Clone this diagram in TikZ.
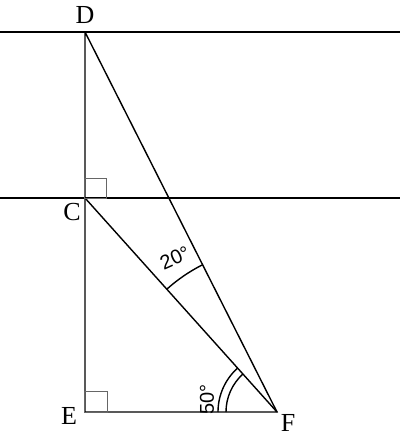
\documentclass[tikz,border=0pt]{standalone}
\usepackage{fontspec}
\setmainfont{Liberation Serif}
\newfontfamily\degfont{Liberation Sans}
\usepackage{tikz}
\usetikzlibrary{positioning}

\begin{document}
\begin{tikzpicture}[x=0.5pt, y=0.5pt, line width=0.7pt]
          \useasboundingbox (0,0) rectangle (400,436);
          \tikzset{pt/.style={font=\fontsize{13}{15}\selectfont, inner sep=1pt},
                   deg/.style={font=\degfont\fontsize{10}{12}\selectfont, inner sep=1pt},
                   sq/.style={draw=black!60, line width=0.5pt}}
          \coordinate (D) at (85,404);
          \coordinate (C) at (85,238);
          \coordinate (E) at (85,24);
          \coordinate (F) at (277,24);
          \coordinate (l1) at (0,404);
          \coordinate (r1) at (400,404);
          \coordinate (l2) at (0,238);
          \coordinate (r2) at (400,238);
          \draw[](l1) -- (r1);
          \draw[](l2) -- (r2);
          \draw[](D) -- (E) -- (F) -- (D);
          \draw[](C) -- (F);
          \node[pt] (labD) at (85,421){D};
          \node[pt] (labC) at (72,224){C};
          \node[pt] (labE) at (69,20){E};
          \node[pt] (labF) at (288,13){F};
          \draw[sq] (C) rectangle ++(22,20);
          \draw[sq] (E) rectangle ++(23,21);
          \draw[] ([shift={(116.8:165)}]F) arc[start angle=116.8, end angle=131.9, radius=165];
          \draw[] ([shift={(131.9:51)}]F) arc[start angle=131.9, end angle=180, radius=51];
          \draw[] ([shift={(131.9:59)}]F) arc[start angle=131.9, end angle=180, radius=59];
          \node[deg, rotate=24] (a20) at ([shift={(123.5:185)}]F){20°};
          \node[deg, rotate=90] (a50) at ([shift={(170:71)}]F){50°};
        \end{tikzpicture}
\end{document}
